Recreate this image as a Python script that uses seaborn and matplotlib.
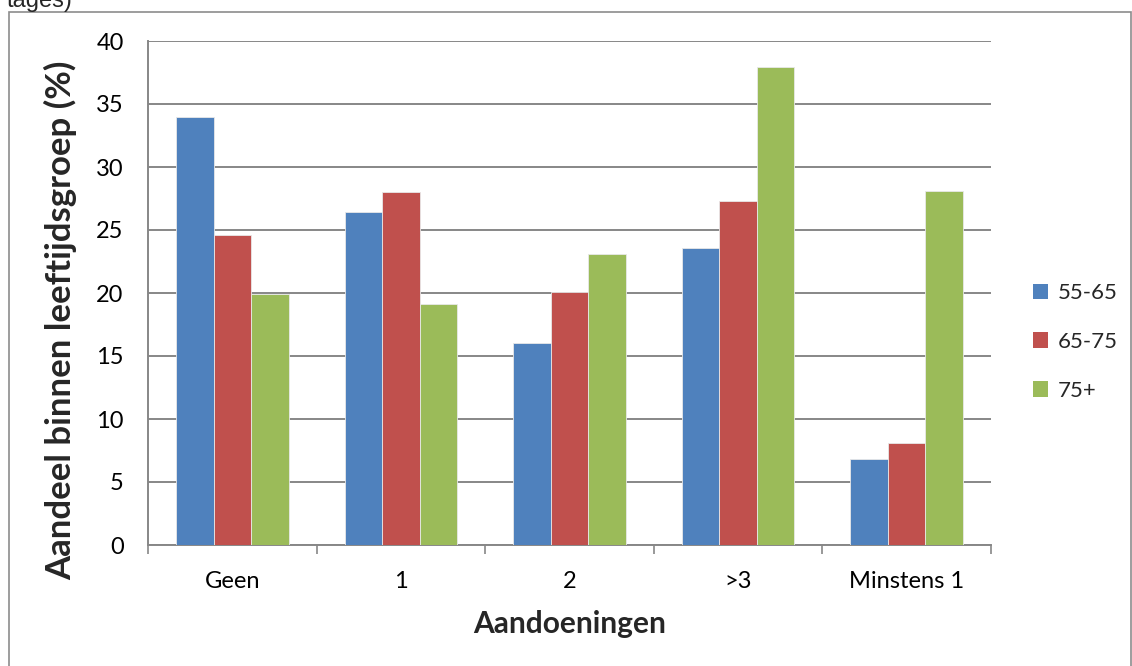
import matplotlib
matplotlib.use("Agg")
import matplotlib.pyplot as plt
from matplotlib.patches import Rectangle, Patch
from matplotlib.ticker import FixedLocator
import seaborn as sns
import pandas as pd

# Share of each age group (%) per number of conditions
categories = ["Geen", "1", "2", ">3", "Minstens 1"]
age_groups = ["55-65", "65-75", "75+"]
values_55_65 = [34.0, 26.4, 16.0, 23.6, 6.8]
values_65_75 = [24.6, 28.0, 20.1, 27.3, 8.1]
values_75_plus = [19.9, 19.1, 23.1, 37.9, 28.1]
y_ticks = [0, 5, 10, 15, 20, 25, 30, 35, 40]

colors = ["#4F81BD", "#C0504D", "#9BBB59"]

df = pd.DataFrame({
    "Aandoeningen": categories * 3,
    "Leeftijd": [g for g in age_groups for _ in categories],
    "Aandeel": values_55_65 + values_65_75 + values_75_plus,
})

sns.set_theme(style="white")
plt.rcParams["font.family"] = ["Lato", "DejaVu Sans"]

W, H = 1132, 666
fig = plt.figure(figsize=(W / 100, H / 100), dpi=100)
ax = fig.add_axes([148 / W, 1 - 545 / H, (991 - 148) / W, (545 - 41) / H])

sns.barplot(data=df, x="Aandoeningen", y="Aandeel", hue="Leeftijd",
            order=categories, hue_order=age_groups, palette=colors,
            width=0.667, saturation=1, errorbar=None, ax=ax,
            edgecolor="#e8e8e8", linewidth=0.6, zorder=3)

ax.set_ylim(0, 40)
ax.set_xlim(-0.5, len(categories) - 0.5)
ax.set_yticks(y_ticks)
ax.yaxis.grid(True, color="#878787", linewidth=1.4, zorder=0)
ax.set_axisbelow(True)

grey = "#878787"
for side in ["top", "right"]:
    ax.spines[side].set_visible(False)
for side in ["left", "bottom"]:
    ax.spines[side].set_color(grey)
    ax.spines[side].set_linewidth(1.4)

ax.tick_params(axis="y", which="major", direction="out", length=6.5,
               width=1.2, color=grey, pad=11, labelsize=17, labelcolor="black")
ax.tick_params(axis="x", which="major", length=0, pad=19, labelsize=17,
               labelcolor="black")
ax.xaxis.set_minor_locator(FixedLocator([i - 0.5 for i in range(len(categories) + 1)]))
ax.tick_params(axis="x", which="minor", direction="out", length=6.5,
               width=1.2, color=grey, bottom=True)

ax.set_xlabel("Aandoeningen", fontsize=21.5, fontweight="bold", labelpad=13)
ax.set_ylabel("Aandeel binnen leeftijdsgroep (%)", fontsize=25,
              fontweight="bold")
ax.yaxis.set_label_coords((77 - 148) / (991 - 148), (545 - 320) / (545 - 41))

handles = [Patch(facecolor=c, edgecolor="none") for c in colors]
ax.legend(handles, age_groups, loc="center left",
          bbox_to_anchor=(1024 / W, 1 - 342 / H), bbox_transform=fig.transFigure,
          frameon=False, fontsize=16, handlelength=0.7, handleheight=0.7,
          handletextpad=0.4, labelspacing=1.3, borderaxespad=0)

# Chart area border and the clipped caption above it
fig.patches.append(Rectangle((9 / W, -0.05), (1131 - 9) / W, 1.05 - 12 / H,
                             transform=fig.transFigure, fill=False,
                             edgecolor="#8c8c8c", linewidth=1.2))
fig.text(7 / W, 1 - 7.5 / H, "tages)", fontsize=17,
         family=["Liberation Sans", "DejaVu Sans"], va="baseline", ha="left")

fig.savefig("out.png", dpi=100)
